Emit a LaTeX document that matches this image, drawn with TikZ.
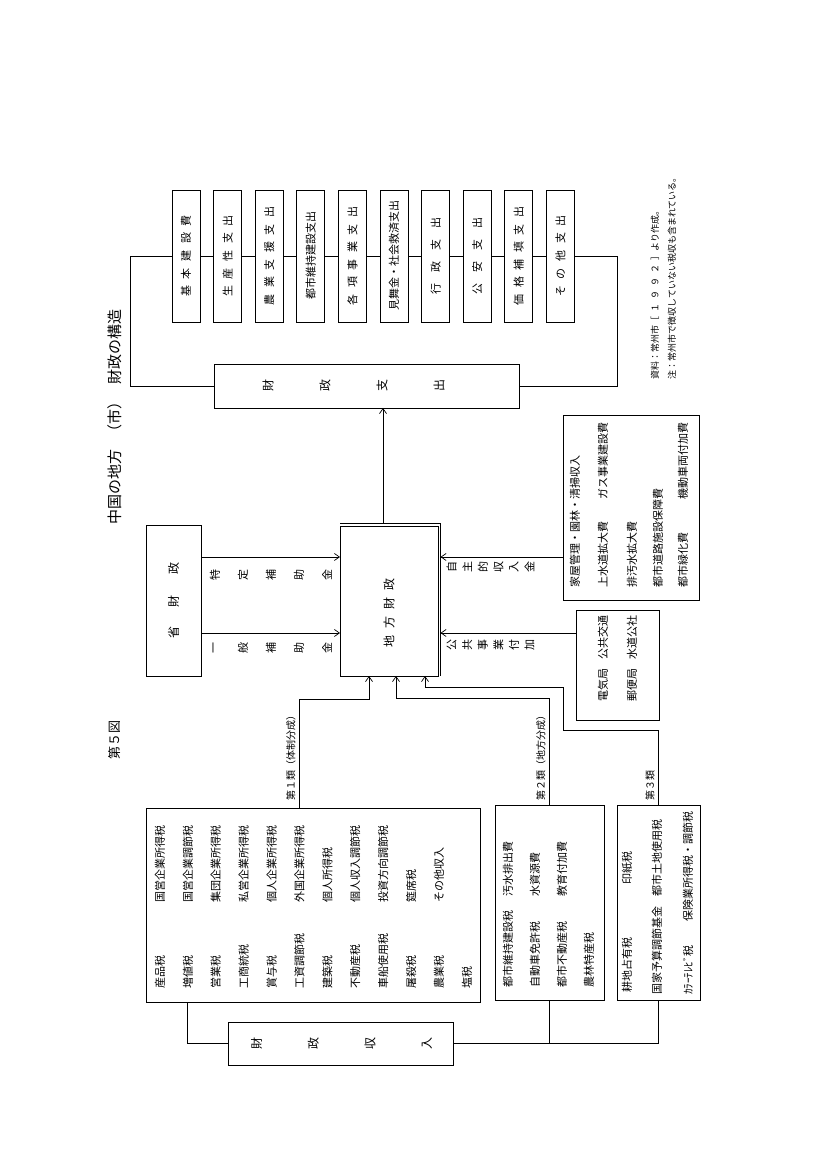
\documentclass[tikz,border=0pt]{standalone}
\usepackage{fontspec}
\setmainfont{Noto Sans CJK JP}
\usetikzlibrary{arrows.meta}
\newcommand{\jsp}{\hspace{.6em}}

\begin{document}
\begin{tikzpicture}[x=1pt, y=1pt, line width=.7pt,
    box/.style={draw, outer sep=0pt, inner sep=0pt},
    item/.style={anchor=west, inner sep=0pt, font=\fontsize{11}{13}\selectfont},
    tate/.style={inner sep=0pt, font=\fontsize{11}{13}\selectfont},
    lbl/.style={anchor=south west, inner sep=0pt, font=\fontsize{10}{12}\selectfont},
    arr/.style={-{Straight Barb[length=5pt, width=7pt]}}]
  \fill[white] (0,0) rectangle (827,1170);
  \useasboundingbox (0,0) rectangle (827,1170);
  \begin{scope}[shift={(827,0)}, rotate=90, transform shape]
    % title
    \node[anchor=west, inner sep=0pt, font=\fontsize{13}{15}\selectfont] (fig) at (410,712) {第５図};
    \node[anchor=west, inner sep=0pt, font=\fontsize{15}{17}\selectfont] (title) at (645,712)
      {中国の地方\hspace{10pt}（市）\hspace{10pt}財政の構造};

    % revenue
    \node[box, minimum width=43pt, minimum height=225pt] (shunyu) at (126.5,486.5) {};
    \foreach \c [count=\i] in {財,政,収,入}
      \node[tate, font=\fontsize{12}{14}\selectfont] at (126.5,627-56.7*\i) {\c};

    \node[box, minimum width=194pt, minimum height=334pt] (rui1) at (265,514) {};
    \foreach \t [count=\i from 0] in {産品税,増値税,営業税,工商統税,賞与税,工資調節税,
        建築税,不動産税,車船使用税,屠殺税,農業税,塩税}
      \node[item] at (181,667-27.9*\i) {\t};
    \foreach \t [count=\i from 0] in {国営企業所得税,国営企業調節税,集団企業所得税,
        私営企業所得税,個人企業所得税,外国企業所得税,個人所得税,個人収入調節税,
        投資方向調節税,筵席税,その他収入}
      \node[item] at (267,667-27.9*\i) {\t};

    \node[box, minimum width=195pt, minimum height=109pt] (rui2) at (267.5,277.5) {};
    \foreach \x/\y/\t in {182/319/都市維持建設税, 182/292/自動車免許税,
        182/265/都市不動産税, 182/238/農林特産税,
        273/319/汚水排出費, 273/292/水資源費, 273/265/教育付加費}
      \node[item] at (\x,\y) {\t};

    \node[box, minimum width=195pt, minimum height=83pt] (rui3) at (267.5,168.5) {};
    \foreach \x/\y/\t in {177/200/耕地占有税, 285/200/印紙税,
        175/170/国家予算調節基金, 273/170/都市土地使用税,
        175/139/ｶﾗｰﾃﾚﾋﾞ税, 248/139/保険業所得税・調節税}
      \node[item] at (\x,\y) {\t};

    \draw (shunyu.north) -- ++(0,41) -- ([yshift=126pt]rui1.west);
    \draw (shunyu.south) -- ++(0,-205.5) -- (rui3.west);
    \draw ([yshift=-209pt]shunyu.center) -- (rui2.west);

    % local finance
    \node[box, minimum width=151pt, minimum height=55pt, font=\fontsize{12}{14}\selectfont]
      (shou) at (569,653.5) {省\hspace{20pt}財\hspace{20pt}政};
    \node[box, minimum width=150pt, minimum height=98pt] (chiho) at (569,438) {};
    \draw ([xshift=2.5pt]chiho.north east) -- ([xshift=2.5pt, yshift=-2.5pt]chiho.south east)
      -- ([yshift=-2.5pt]chiho.south west);
    \node[font=\fontsize{12}{14}\selectfont] (chihotxt) at (557,438) {地\jsp 方\jsp 財\jsp 政};

    \draw[arr] ([xshift=44pt]shou.south) -- ([xshift=44pt]chiho.north);
    \draw[arr] ([xshift=-32pt]shou.south) -- ([xshift=-32pt]chiho.north);
    \foreach \c [count=\i] in {特,定,補,助,金}
      \node[tate] at (595,640-28*\i) {\c};
    \foreach \c [count=\i] in {一,般,補,助,金}
      \node[tate] at (522,640-28*\i) {\c};

    \draw[arr] ([yshift=14pt]rui1.east) -- ++(109,0) -- ++(0,-70) -- ([yshift=20pt]chiho.west);
    \draw[arr] (rui2.east) -- ++(107,0) -- ++(0,153.5) -- ([yshift=-7pt]chiho.west);
    \draw[arr] (rui3.east) -- ++(75,0) -- ++(0,95.5) -- ++(43,0) -- ++(0,138)
      -- ([yshift=-36pt]chiho.west);
    \node[lbl] (l1) at (369,531) {第１類（体制分成）};
    \node[lbl] (l2) at (369,281) {第２類（地方分成）};
    \node[lbl] (l3) at (369,172) {第３類};

    \node[box, minimum width=185pt, minimum height=136pt] (kaoku) at (662.5,196) {};
    \foreach \x/\y/\t in {582/252/家屋管理・園林・清掃収入, 582/224/上水道拡大費,
        670/224/ガス事業建設費, 582/195/排汚水拡大費, 582/169/都市道路施設保障費,
        582/144/都市緑化費, 670/144/機動車両付加費}
      \node[item] at (\x,\y) {\t};
    \node[box, minimum width=110pt, minimum height=83pt] (denki) at (505,209.5) {};
    \foreach \x/\y/\t in {468/224/電気局, 510/224/公共交通, 468/195/郵便局, 510/195/水道公社}
      \node[item] at (\x,\y) {\t};

    \draw[arr] ([xshift=-49.5pt]kaoku.north) -- ([xshift=44pt, yshift=-2.5pt]chiho.south);
    \draw[arr] ([xshift=32pt]denki.north) -- ([xshift=-32pt, yshift=-2.5pt]chiho.south);
    \foreach \c [count=\i] in {自,主,的,収,入,金}
      \node[tate] at (603,391-15.6*\i) {\c};
    \foreach \c [count=\i] in {公,共,事,業,付,加}
      \node[tate] at (525,391-15.6*\i) {\c};

    % expenditure
    \node[box, minimum width=44pt, minimum height=305pt] (shishutsu) at (784,460) {};
    \foreach \c [count=\i] in {財,政,支,出}
      \node[tate, font=\fontsize{12}{14}\selectfont] at (784,616-57*\i) {\c};
    \draw[arr] ([xshift=2.5pt, yshift=6pt]chiho.east) -- ([yshift=-16pt]shishutsu.west);

    \foreach \t [count=\i] in {基\jsp 本\jsp 建\jsp 設\jsp 費, 生\jsp 産\jsp 性\jsp 支\jsp 出,
        農\jsp 業\jsp 支\jsp 援\jsp 支\jsp 出, 都市維持建設支出,
        各\jsp 項\jsp 事\jsp 業\jsp 支\jsp 出, 見舞金・社会救済支出,
        行\hspace{1em}政\hspace{1em}支\hspace{1em}出, 公\hspace{1em}安\hspace{1em}支\hspace{1em}出,
        価\jsp 格\jsp 補\jsp 填\jsp 支\jsp 出, そ\jsp の\jsp 他\jsp 支\jsp 出}
      \node[box, minimum width=132pt, minimum height=28pt, font=\fontsize{11}{13}\selectfont]
        (e\i) at (914,682.6-41.6*\i) {\t};
    \foreach \i [count=\j from 2] in {1,...,9}
      \draw (e\i.south) -- (e\j.north);
    \draw (shishutsu.north) -- ++(0,84.5) -- ++(130,0) -- (e1.north);
    \draw (shishutsu.south) -- ++(0,-97.5) -- ++(130,0) -- (e10.south);

    % notes
    \node[anchor=west, inner sep=0pt, font=\fontsize{9}{11}\selectfont] (src) at (790,172)
      {資料：常州市［\hspace{4pt}１\hspace{4pt}９\hspace{4pt}９\hspace{4pt}２\hspace{4pt}］より作成。};
    \node[anchor=west, inner sep=0pt, font=\fontsize{9}{11}\selectfont] (note) at (790,155)
      {注：常州市で徴収していない税収も含まれている。};
  \end{scope}
\end{tikzpicture}
\end{document}
